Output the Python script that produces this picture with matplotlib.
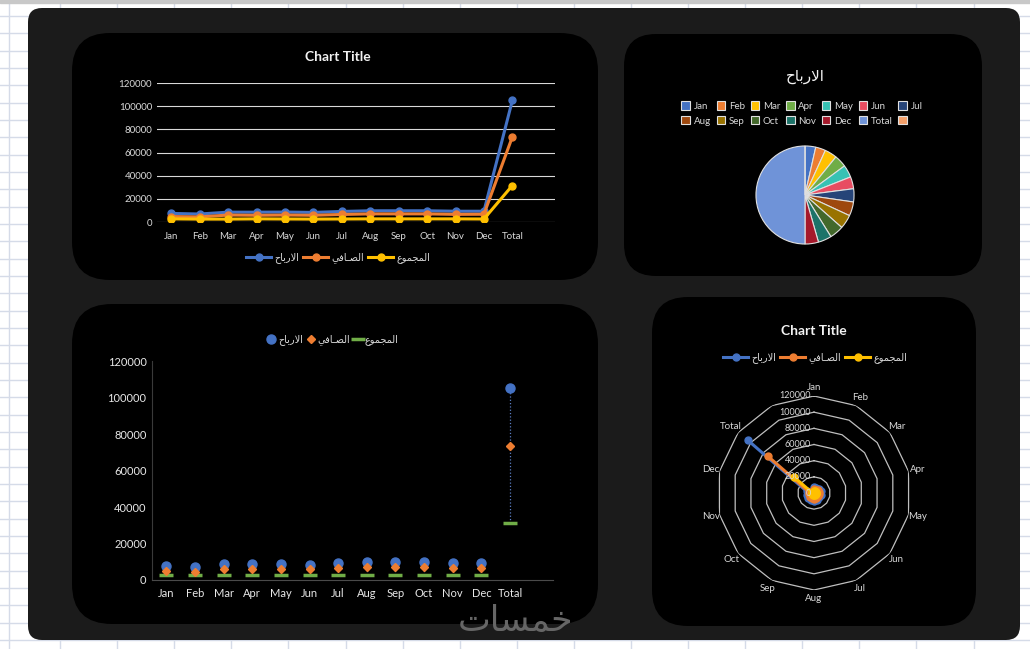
import matplotlib
matplotlib.use('Agg')
import matplotlib.pyplot as plt
import numpy as np
from matplotlib.patches import FancyBboxPatch, Rectangle

plt.rcParams['font.family'] = ['Lato', 'DejaVu Sans']

# ---------------- data ----------------
months = ['Jan', 'Feb', 'Mar', 'Apr', 'May', 'Jun', 'Jul', 'Aug', 'Sep', 'Oct', 'Nov', 'Dec', 'Total']
categories = months + ['']
profits = [7400, 6900, 8500, 8500, 8600, 8300, 9100, 9700, 9700, 9700, 9300, 9300, 105000]
net = [4700, 4400, 6000, 5800, 6000, 5800, 6500, 7000, 7000, 7000, 6600, 6700, 73500]
total = [2700, 2500, 2500, 2700, 2600, 2500, 2600, 2700, 2700, 2700, 2700, 2600, 31500]
yticks = [0, 20000, 40000, 60000, 80000, 100000, 120000]

# Arabic names, pre-shaped (presentation forms, visual order)
name_profits = '\uFEA1\uFE8E\uFE91\uFEAD\uFEFB\uFE8D'          # الارباح
name_net = '\uFEF2\uFED3\uFE8E\u0640\uFEBC\uFEDF\uFE8D'        # الصافي
name_total = '\uFEC9\uFEEE\uFEE4\uFEA0\uFEE4\uFEDF\uFE8D'      # المجموع
watermark = '\uFE95\uFE8E\uFEB4\uFEE4\uFEA7'                   # خمسات

pie_values = profits + [0]
pie_colors = ['#4472C4', '#ED7D31', '#FFC000', '#70AD47', '#36C2B4', '#E84C61', '#264478',
              '#9E480E', '#997300', '#43682B', '#1C7369', '#A5192B', '#6F93D8', '#F4A06A']

BLUE, ORANGE, YELLOW, GREEN = '#4472C4', '#ED7D31', '#FFC000', '#70AD47'
TXT = '#d9d9d9'

W, H = 1030, 649
fig = plt.figure(figsize=(W / 100, H / 100), dpi=100)
fig.patch.set_facecolor('white')


def rect(x0, y0, x1, y1):
    return [x0 / W, 1 - y1 / H, (x1 - x0) / W, (y1 - y0) / H]


def fx(x):
    return x / W


def fy(y):
    return 1 - y / H


# ---------------- background (spreadsheet + dashboard panels) ----------------
bg = fig.add_axes([0, 0, 1, 1])
bg.set_xlim(0, W)
bg.set_ylim(H, 0)
bg.axis('off')
grid_c = '#d5dbe8'
for gx in [9] + list(np.arange(60, W + 1, 57.1)):
    bg.plot([gx, gx], [0, H], color=grid_c, lw=1, zorder=0)
for gy in np.arange(16, H + 1, 17.33):
    bg.plot([0, W], [gy, gy], color=grid_c, lw=1, zorder=0)
bg.add_patch(Rectangle((0, 0), W, 2.5, color='#c8c8c8', zorder=0.5))
bg.add_patch(FancyBboxPatch((28, 8), 992, 632, boxstyle='round,pad=0,rounding_size=14',
                            fc='#1b1b1b', ec='none', zorder=1))
for (x0, y0, x1, y1, rr) in [(72, 33, 598, 280, 38), (624, 34, 982, 276, 32),
                              (72, 304, 598, 624, 40), (652, 297, 976, 626, 36)]:
    bg.add_patch(FancyBboxPatch((x0, y0), x1 - x0, y1 - y0,
                                boxstyle='round,pad=0,rounding_size=%d' % rr,
                                fc='#000000', ec='none', zorder=2))
fig.text(fx(515), fy(621), watermark, family=['DejaVu Sans'], fontsize=25,
         color='#666666', ha='center', va='center')

x = np.arange(len(months))

# ---------------- top-left: line chart ----------------
ax1 = fig.add_axes(rect(157, 83, 555, 222))
ax1.set_facecolor('none')
for vals, c, n in [(profits, BLUE, name_profits), (net, ORANGE, name_net), (total, YELLOW, name_total)]:
    ax1.plot(x, vals, color=c, lw=2.2, marker='o', ms=5, label=n, zorder=3)
ax1.set_xlim(-0.5, 13.5)
ax1.set_ylim(0, 120000)
ax1.set_yticks(yticks)
ax1.set_xticks(x, months)
ax1.grid(axis='y', color='#d9d9d9', lw=0.8)
ax1.set_axisbelow(True)
for s in ax1.spines.values():
    s.set_visible(False)
ax1.tick_params(length=0, colors=TXT, labelsize=7)
ax1.tick_params(axis='x', pad=7)
ax1.tick_params(axis='y', pad=3.5)
fig.text(fx(338), fy(57), 'Chart Title', fontsize=10, weight='bold', color='#f2f2f2',
         ha='center', va='center')
ax1.legend(loc='center', bbox_to_anchor=(fx(338), fy(258)), bbox_transform=fig.transFigure,
           ncol=3, frameon=False, fontsize=7, handlelength=2.6, columnspacing=0.4,
           handletextpad=0.3, labelcolor=TXT)

# ---------------- top-right: pie chart ----------------
ax2 = fig.add_axes(rect(755, 145, 855, 245))
wedges, _ = ax2.pie(pie_values, colors=pie_colors, startangle=90, counterclock=False,
                    wedgeprops=dict(edgecolor='#e0e0e0', linewidth=0.8))
ax2.set_xlim(-1.02, 1.02)
ax2.set_ylim(-1.02, 1.02)
fig.text(fx(805), fy(76), name_profits, fontsize=11, color='#f2f2f2', ha='center', va='center',
         family=['DejaVu Sans'])
# legend laid out row by row (matplotlib fills columns first)
ncol = 7
order = [r * ncol + c for c in range(ncol) for r in range(2)]
ax2.legend([wedges[i] for i in order], [categories[i] for i in order], ncol=ncol, loc='center',
           bbox_to_anchor=(fx(802), fy(113.5)), bbox_transform=fig.transFigure, frameon=False,
           fontsize=7, handlelength=0.9, handleheight=0.9, handletextpad=0.35,
           columnspacing=0.6, labelspacing=0.55, labelcolor=TXT)

# ---------------- bottom-left: high-low chart ----------------
ax3 = fig.add_axes(rect(152, 361, 553, 580))
ax3.set_facecolor('none')
ax3.vlines(x, total, profits, color='#5b7fc4', lw=0.9, linestyles=':', zorder=1)
ax3.plot(x, profits, 'o', color=BLUE, ms=6.5, label=name_profits, zorder=3)
ax3.plot(x, net, 'D', color=ORANGE, ms=4.5, label=name_net, zorder=4)
ax3.plot(x, total, '_', color=GREEN, ms=10, mew=2.5, label=name_total, zorder=2)
ax3.set_xlim(-0.5, 13.5)
ax3.set_ylim(0, 120000)
ax3.set_yticks(yticks)
ax3.set_xticks(x, months)
for k in ['top', 'right']:
    ax3.spines[k].set_visible(False)
ax3.spines['left'].set_color('#3a3a3a')
ax3.spines['bottom'].set_color('#4a4a4a')
ax3.tick_params(length=0, colors='#e8e8e8', labelsize=8)
ax3.tick_params(axis='x', pad=6)
ax3.tick_params(axis='y', pad=4)
ax3.legend(loc='center', bbox_to_anchor=(fx(333), fy(340)), bbox_transform=fig.transFigure,
           ncol=3, frameon=False, fontsize=7, handlelength=0.8, columnspacing=0.4,
           handletextpad=0.3, labelcolor=TXT)

# ---------------- bottom-right: radar chart (14 categories, last one blank) ----------------
ax4 = fig.add_axes(rect(717, 396, 911, 590), projection='polar')
ax4.set_facecolor('none')
ax4.set_theta_zero_location('N')
ax4.set_theta_direction(-1)
theta = np.arange(len(categories)) * 2 * np.pi / len(categories)
th_ring = np.append(theta, theta[0])
for rv in yticks[1:]:
    ax4.plot(th_ring, np.full(len(th_ring), rv), color='#bfbfbf', lw=0.9, zorder=1)
th_data = theta[:len(months)]
for vals, c, n in [(profits, BLUE, name_profits), (net, ORANGE, name_net), (total, YELLOW, name_total)]:
    ax4.plot(th_data, vals, color=c, lw=2.2, marker='o', ms=5, label=n, zorder=3)
ax4.set_ylim(0, 120000)
ax4.set_xticks([])
ax4.set_yticks([])
ax4.grid(False)
ax4.spines['polar'].set_visible(False)
for th, m in zip(theta, categories):
    ax4.text(th, 131000, m, ha='center', va='center', fontsize=7, color=TXT)
for rv in yticks:
    ax4.annotate(str(rv), (0, rv), xytext=(-2, 0), textcoords='offset points', ha='right',
                 va='center', fontsize=6.5, color=TXT)
fig.text(fx(814), fy(331), 'Chart Title', fontsize=10, weight='bold', color='#f2f2f2',
         ha='center', va='center')
ax4.legend(loc='center', bbox_to_anchor=(fx(815), fy(358)), bbox_transform=fig.transFigure,
           ncol=3, frameon=False, fontsize=7, handlelength=2.6, columnspacing=0.4,
           handletextpad=0.3, labelcolor=TXT)

fig.savefig('out.png', dpi=100, facecolor='white')
